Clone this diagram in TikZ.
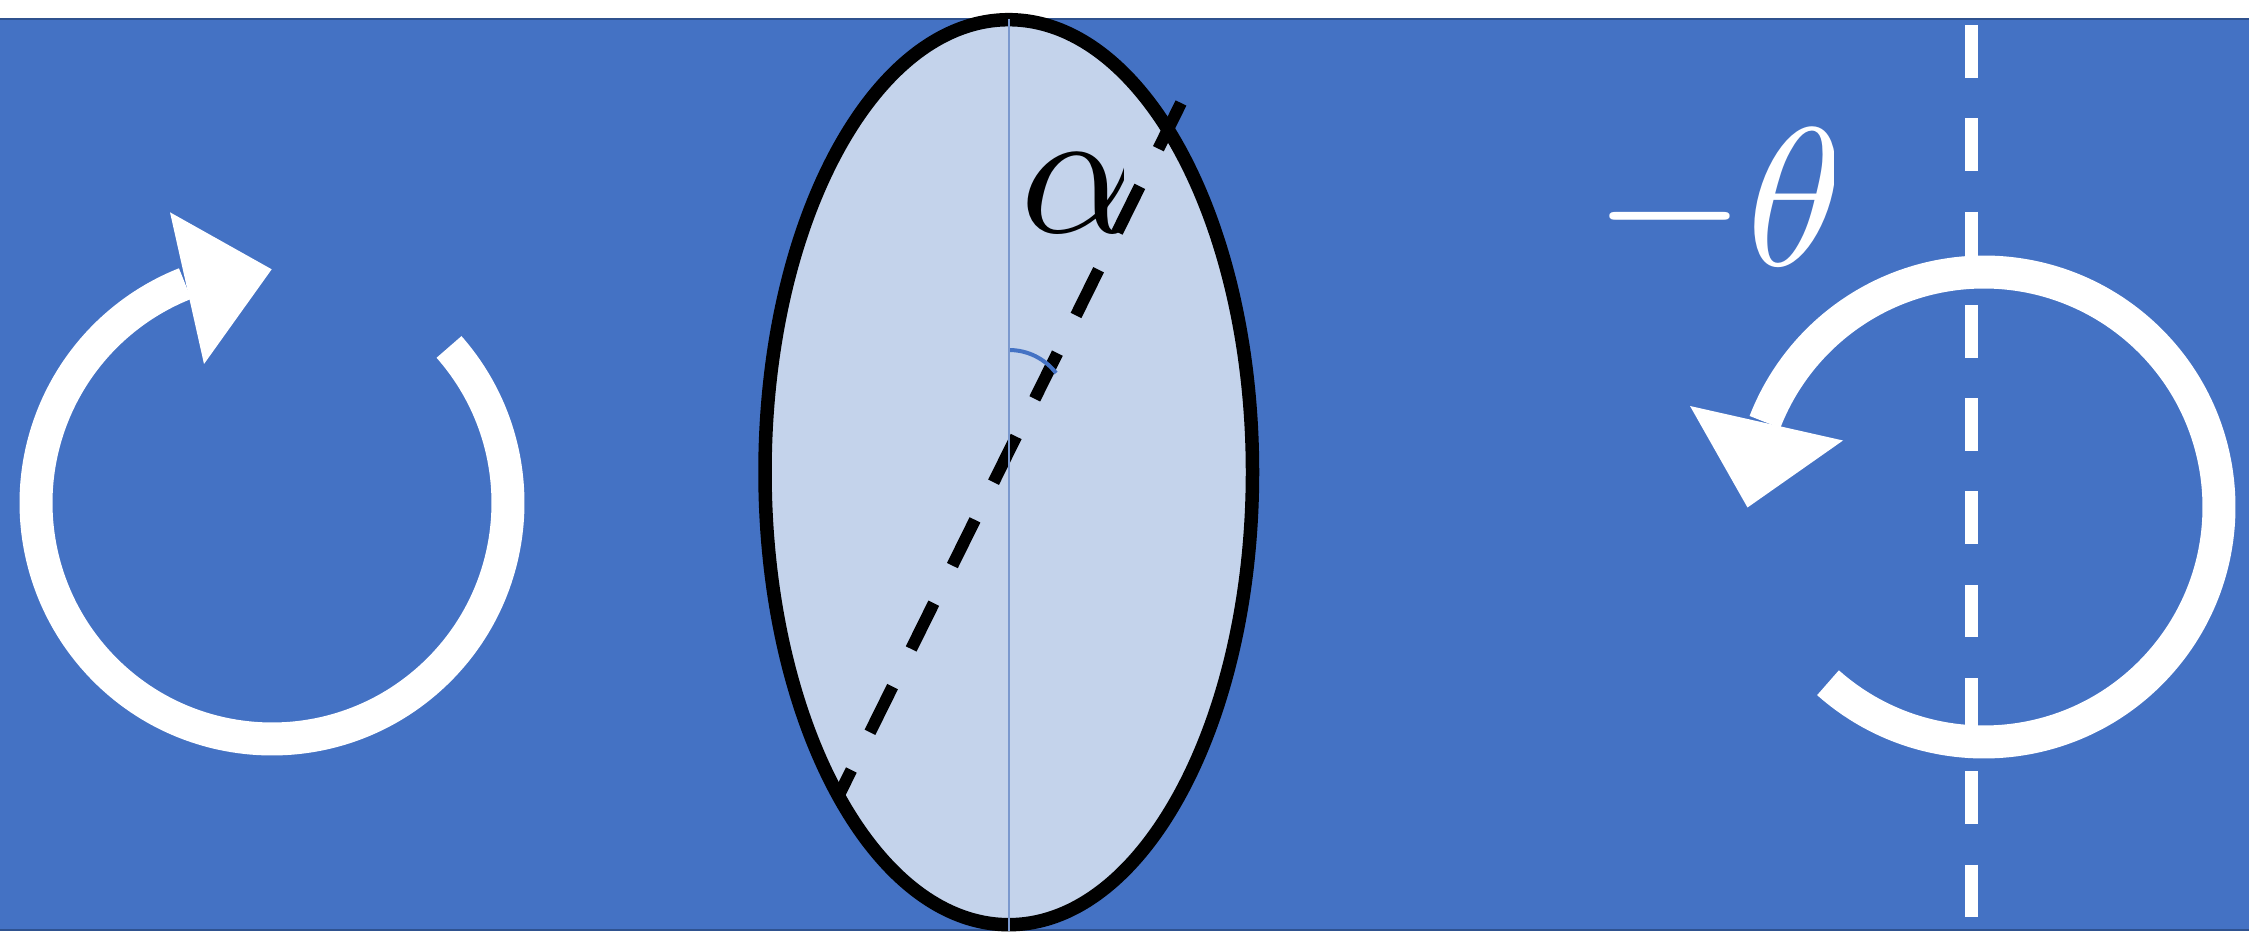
\documentclass[tikz,border=0pt]{standalone}
\usepackage{graphicx}
\usepackage{tikz}
\usetikzlibrary{positioning}
\definecolor{SlideBlue}{RGB}{68,114,196}
\definecolor{SlideEdge}{RGB}{47,82,143}
\definecolor{DiscFill}{RGB}{196,211,235}
\definecolor{AxisBlue}{RGB}{122,152,206}

\begin{document}
\begin{tikzpicture}[
    x=0.1mm, y=0.1mm,
    ring/.style={white, line width=3.3mm},
    tipfill/.style={fill=white},
    disc/.style={fill=DiscFill, draw=black, line width=1.35mm},
    tiltaxis/.style={black, line width=1.2mm, dash pattern=on 5.1mm off 4.2mm},
    spinaxis/.style={white, line width=1.27mm, dash pattern=on 5.27mm off 4.06mm},
    bigmath/.style={inner sep=0pt, anchor=base west}
  ]
    \useasboundingbox (0,0) rectangle (2249,931);
    \fill[white] (0,0) rectangle (2249,931);
    \draw[SlideEdge, fill=SlideBlue, line width=0.2mm] (-10,1) rectangle (2259,912);

    % left rotation arrow
    \coordinate (left-centre) at (272,428);
    \draw[ring] ([shift={(41.4:236)}]left-centre)
      arc[start angle=41.4, end angle=-248.4, radius=236];
    \fill[tipfill] (170,718.7) -- (271.7,661.7) -- (204,567) -- cycle;

    % right rotation arrow and its axis
    \coordinate (right-centre) at (1984,424);
    \draw[spinaxis] (1971.3,906) -- (1971.3,13.6);
    \draw[ring] ([shift={(228.4:235)}]right-centre)
      arc[start angle=228.4, end angle=518.8, radius=235];
    \fill[tipfill] (1690,525) -- (1843,490.5) -- (1747.5,423.5) -- cycle;

    % tilted disc
    \coordinate (disc-centre) at (1008.75,458.8);
    \draw[disc] (disc-centre) ellipse[x radius=243.75, y radius=452.5];
    \draw[tiltaxis] (1181,828) -- (838,134);
    \draw[SlideBlue, line width=0.4mm] (1009,581)
      arc[start angle=90, end angle=37.8, radius=59.5];
    \draw[AxisBlue, line width=0.17mm] (1009,912) -- (1009,0);

    % labels (cut at the right like the pasted glyphs)
    \begin{scope}
      \clip (1000,650) rectangle (1123,800);
      \node[bigmath] (alpha) at (1020,698) {\scalebox{5.2}{$\alpha$}};
    \end{scope}
    \begin{scope}
      \clip (1580,640) rectangle (1833,820);
      \node[bigmath, text=white] (theta) at (1593,665) {\scalebox{5.6}{$-\theta$}};
    \end{scope}
  \end{tikzpicture}
\end{document}
